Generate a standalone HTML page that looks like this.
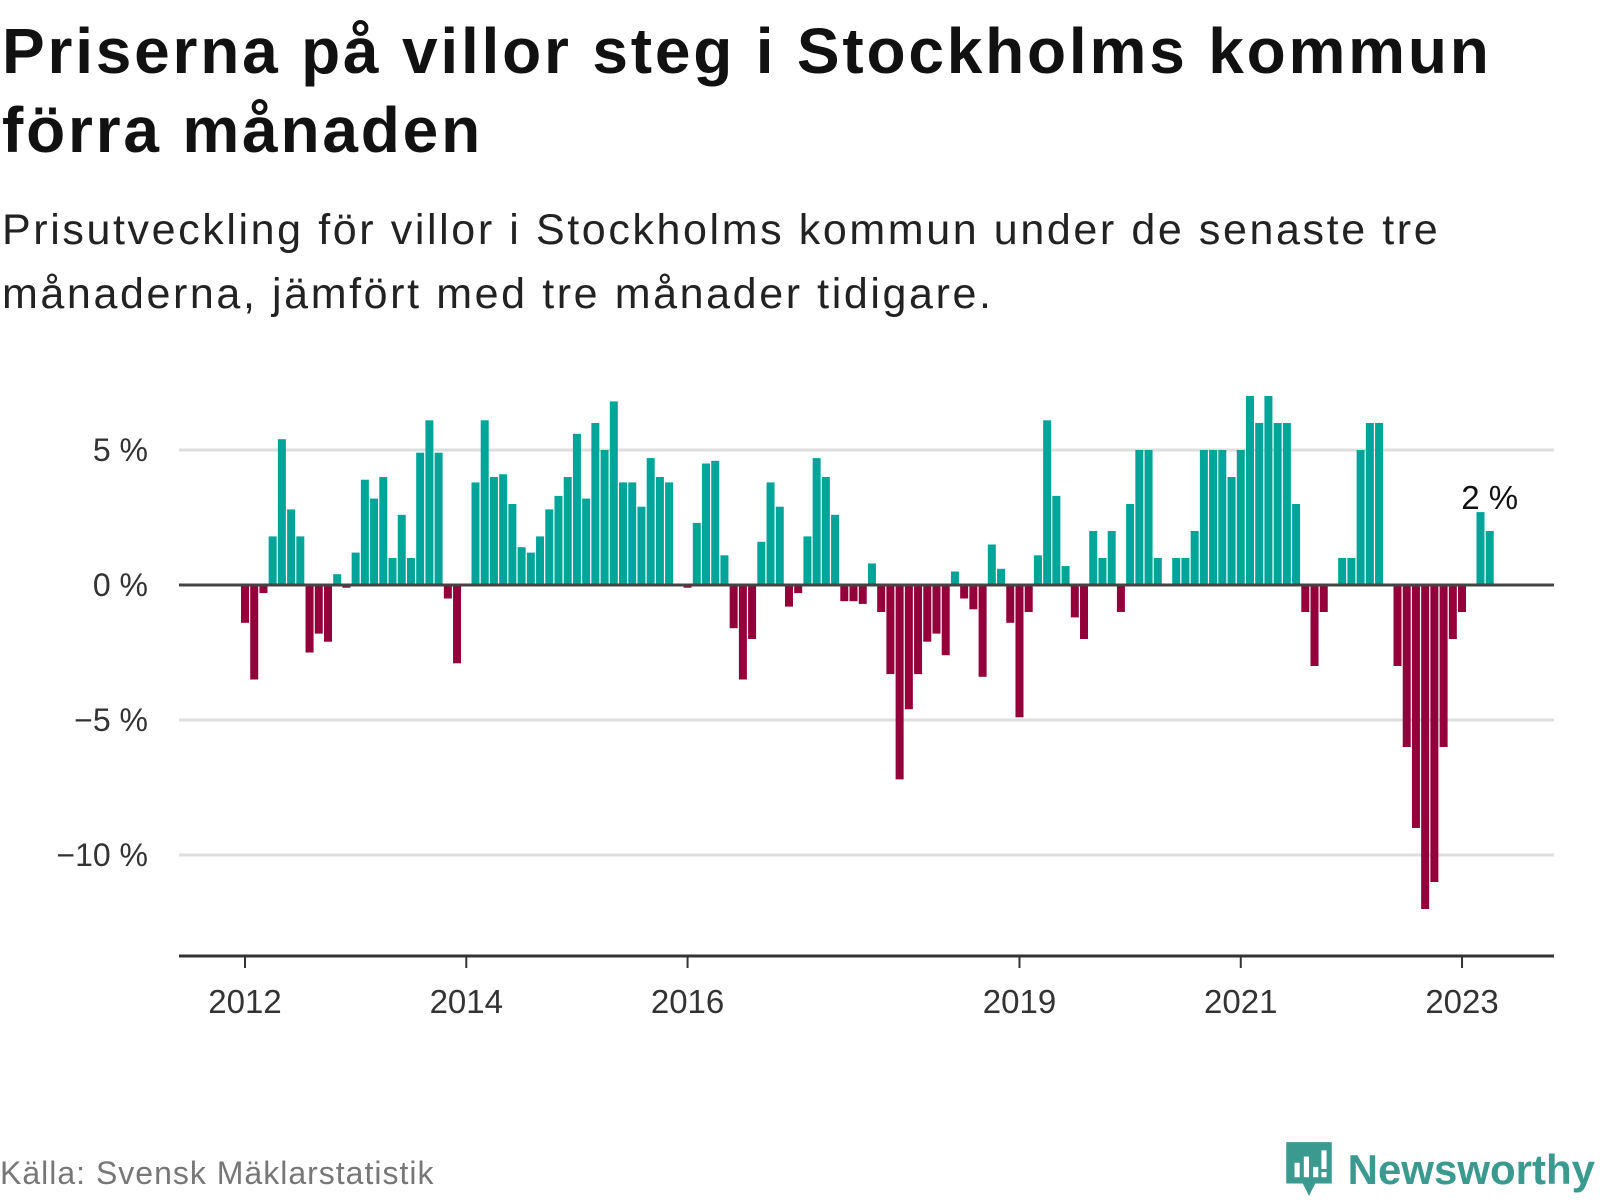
<!DOCTYPE html>
<html><head><meta charset="utf-8">
<style>
html,body{margin:0;padding:0;background:#fff;}
body{width:1600px;height:1200px;position:relative;overflow:hidden;font-family:"Liberation Sans",sans-serif;}
.title{position:absolute;left:2px;top:12px;margin:0;font-size:64px;font-weight:bold;line-height:79px;color:#111;white-space:nowrap;letter-spacing:2.8px;}
.sub{position:absolute;left:2px;top:198px;margin:0;font-size:43px;line-height:64px;color:#222;white-space:nowrap;letter-spacing:2.6px;}
svg{position:absolute;left:0;top:0;}
.src{position:absolute;left:0;top:1155px;font-size:32px;color:#777;letter-spacing:1px;}
.logo{position:absolute;right:5px;top:1140px;display:flex;align-items:center;color:#3a9a8f;font-weight:bold;font-size:42px;}
</style></head>
<body>
<h1 class="title">Priserna på villor steg i Stockholms kommun<br>förra månaden</h1>
<p class="sub">Prisutveckling för villor i Stockholms kommun under de senaste tre<br>månaderna, jämfört med tre månader tidigare.</p>
<svg id="chart" width="1600" height="1200"></svg>
<div class="src">Källa: Svensk Mäklarstatistik</div>
<div class="logo">
<svg width="50" height="60" viewBox="0 0 48 58" style="position:static;margin-right:14px">
<path d="M2 2h44v40H30l-6 12-6-12H2z" fill="#3a9a8f"/>
<rect x="10" y="22" width="5" height="14" fill="#fff"/><rect x="19" y="16" width="5" height="20" fill="#fff"/><rect x="28" y="26" width="5" height="10" fill="#fff"/><rect x="36" y="10" width="5" height="18" fill="#fff"/><rect x="36" y="31" width="5" height="5" fill="#fff"/>
</svg><span>Newsworthy</span></div>
<script>
const values = [-1.4,-3.5,-0.3,1.8,5.4,2.8,1.8,-2.5,-1.8,-2.1,0.4,-0.1,1.2,3.9,3.2,4.0,1.0,2.6,1.0,4.9,6.1,4.9,-0.5,-2.9,
0,3.8,6.1,4.0,4.1,3.0,1.4,1.2,1.8,2.8,3.3,4.0,5.6,3.2,6.0,5.0,6.8,3.8,3.8,2.9,4.7,4.0,3.8,0,
-0.1,2.3,4.5,4.6,1.1,-1.6,-3.5,-2.0,1.6,3.8,2.9,-0.8,-0.3,1.8,4.7,4.0,2.6,-0.6,-0.6,-0.7,0.8,-1.0,
-3.3,-7.2,-4.6,-3.3,-2.1,-1.8,-2.6,0.5,-0.5,-0.9,-3.4,1.5,0.6,-1.4,-4.9,-1.0,1.1,6.1,3.3,0.7,-1.2,-2.0,
2.0,1.0,2.0,-1.0,3.0,5.0,5.0,1.0,0,1.0,1.0,2.0,5.0,5.0,5.0,4.0,5.0,7.0,6.0,7.0,6.0,6.0,3.0,-1.0,-3.0,-1.0,
0,1.0,1.0,5.0,6.0,6.0,0,-3.0,-6.0,-9.0,-12.0,-11.0,-6.0,-2.0,-1.0,0,2.7,2.0];
const yTicks = [5,0,-5,-10];
const yTickLabels = ["5 %","0 %","\u22125 %","\u221210 %"];
const xTickIdx = [0,24,48,84,108,132];
const xTickLabels = ["2012","2014","2016","2019","2021","2023"];
const lastLabel = "2 %";

const NS="http://www.w3.org/2000/svg";
const svg=document.getElementById('chart');
const x0=245, pitch=9.22, bw=8, xl=179, xr=1554;
const X=i=>x0+i*pitch;
const Y=v=>585-v*27;
function mk(t,a){const e=document.createElementNS(NS,t);for(const k in a)e.setAttribute(k,a[k]);svg.appendChild(e);return e;}
yTicks.forEach((v,i)=>{
  if(v!==0){const g=mk('line',{x1:xl,x2:xr,y1:Y(v),y2:Y(v),stroke:'#dedede','stroke-width':3});
  
  }
  const t=mk('text',{x:148,y:Y(v)+11,'text-anchor':'end','font-size':32,fill:'#333','font-family':'Liberation Sans, sans-serif'});
  t.textContent=yTickLabels[i];
  
  
});
values.forEach((v,i)=>{
  if(v===0)return;
  const y=v>0?Y(v):Y(0), h=Math.abs(Y(v)-Y(0));
  const r=mk('rect',{x:X(i)-bw/2,y:y,width:bw,height:h,fill:v>0?'#00a59a':'#93003a'});
  
  
});
const z=mk('line',{x1:xl,x2:xr,y1:Y(0),y2:Y(0),stroke:'#444','stroke-width':3});


const ax=mk('line',{x1:xl,x2:xr,y1:956,y2:956,stroke:'#333','stroke-width':3});


xTickIdx.forEach((idx,i)=>{
  const tk=mk('line',{x1:X(idx),x2:X(idx),y1:956,y2:968,stroke:'#333','stroke-width':2});
  
  
  const t=mk('text',{x:X(idx),y:1013,'text-anchor':'middle','font-size':33,fill:'#333','font-family':'Liberation Sans, sans-serif'});
  t.textContent=xTickLabels[i];
  
  
});
const li=values.length-1;
const lb=mk('text',{x:X(li),y:Y(values[li])-22,'text-anchor':'middle','font-size':33,fill:'#111',stroke:'#fff','stroke-width':4,'paint-order':'stroke','font-family':'Liberation Sans, sans-serif'});
lb.textContent=lastLabel;


</script>
</body></html>
